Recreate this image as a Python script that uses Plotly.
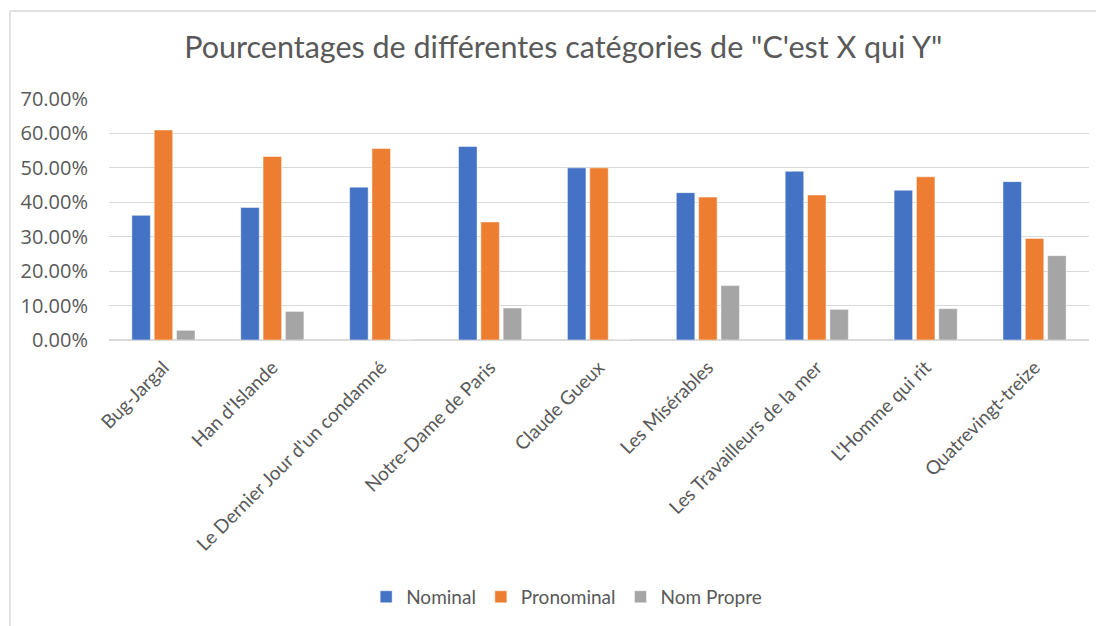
import plotly.graph_objects as go

categories = ["Bug-Jargal", "Han d'Islande", "Le Dernier Jour d'un condamné", "Notre-Dame de Paris",
              "Claude Gueux", "Les Misérables", "Les Travailleurs de la mer", "L'Homme qui rit",
              "Quatrevingt-treize"]
nominal = [0.362, 0.385, 0.444, 0.562, 0.500, 0.428, 0.490, 0.435, 0.460]
pronominal = [0.610, 0.533, 0.556, 0.343, 0.500, 0.415, 0.421, 0.474, 0.295]
nom_propre = [0.028, 0.083, 0.0, 0.093, 0.0, 0.158, 0.089, 0.091, 0.245]

series_names = ["Nominal", "Pronominal", "Nom Propre"]
colors = ["#4472C4", "#ED7D31", "#A5A5A5"]

fig = go.Figure()
for name, vals, col in zip(series_names, [nominal, pronominal, nom_propre], colors):
    fig.add_trace(go.Bar(x=categories, y=vals, name=name, marker_color=col,
                         marker_line=dict(color="rgba(255,255,255,0.6)", width=0.8)))

FONT = "Lato, 'Open Sans', sans-serif"
fig.update_layout(
    width=1104, height=626,
    paper_bgcolor="white", plot_bgcolor="white",
    margin=dict(l=101, r=23, t=91, b=294),
    barmode="group", bargap=0.385, bargroupgap=0.17,
    font=dict(family=FONT, color="#595959", size=16),
    title=dict(text="Pourcentages de différentes catégories de \"C'est X qui Y\"",
               x=0.503, xanchor="center", y=1 - 39 / 626, yanchor="middle", yref="container",
               font=dict(size=30.5, color="#595959", family=FONT)),
    legend=dict(orientation="h", x=0.467, xanchor="center", y=-1.066, yanchor="middle",
                font=dict(size=19, color="#595959"), itemwidth=30),
    showlegend=True,
)
fig.update_yaxes(range=[0, 0.7], dtick=0.1, tickformat=".2%", gridcolor="#D9D9D9",
                 gridwidth=1, zeroline=True, zerolinecolor="#D9D9D9", showline=False,
                 ticks="", tickfont=dict(size=20, color="#595959", family="Open Sans, sans-serif"),
                 ticklabelstandoff=20)
fig.update_xaxes(tickangle=-45, showline=True, linecolor="#D9D9D9", ticks="",
                 tickfont=dict(size=19, color="#595959"), ticklabelstandoff=8)

# chart frame (top and left edges)
fig.add_shape(type="line", xref="paper", yref="paper", x0=-0.101, x1=1.05, y0=1.365, y1=1.365,
              line=dict(color="#D9D9D9", width=1.5), layer="below")
fig.add_shape(type="line", xref="paper", yref="paper", x0=-0.101, x1=-0.101, y0=-1.25, y1=1.365,
              line=dict(color="#D9D9D9", width=1.5), layer="below")

fig.write_html("out.html")
